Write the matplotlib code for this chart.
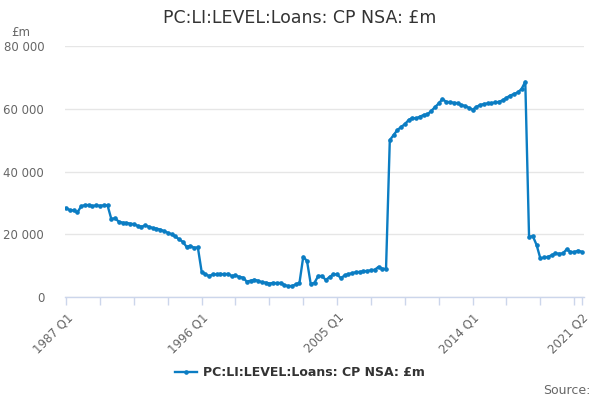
import matplotlib
matplotlib.use("Agg")
from matplotlib import pyplot as plt
from matplotlib.ticker import FuncFormatter

# quarterly series, 1987 Q1 .. 2021 Q2
quarters = [f"{y} Q{q}" for y in range(1987, 2022) for q in range(1, 5)][:138]
loans = [
    28300, 27700, 27600, 27000, 28900, 29300, 29300, 29000, 29200, 29100,
    29200, 29200, 24900, 25100, 24000, 23700, 23600, 23400, 23200, 22700,
    22400, 22800, 22400, 22000, 21800, 21500, 21000, 20500, 20000, 19300,
    18400, 17600, 16000, 16300, 15700, 15800, 8100, 7200, 6700, 7200,
    7200, 7400, 7200, 7400, 6700, 6900, 6400, 6200, 4900, 5200,
    5500, 5200, 4700, 4600, 4300, 4500, 4400, 4500, 3800, 3500,
    3500, 4000, 4500, 12800, 11500, 4100, 4600, 6700, 6700, 5400,
    6400, 7200, 7200, 6000, 6900, 7300, 7600, 7900, 8000, 8200,
    8300, 8500, 8700, 9600, 9000, 9000, 50000, 51600, 53200, 54200,
    55100, 56400, 57100, 56900, 57500, 58000, 58200, 59300, 60500, 61700,
    63100, 62200, 62100, 61900, 61800, 61200, 60900, 60300, 59700, 60600,
    61200, 61500, 61700, 61800, 62000, 62200, 62700, 63500, 64200, 64700,
    65200, 66300, 68600, 19200, 19400, 16600, 12300, 12600, 12800, 13300,
    13900, 13800, 13900, 15200, 14400, 14300, 14800, 14400,
]
title = "PC:LI:LEVEL:Loans: CP NSA: £m"
label_idx = [0, 36, 72, 108, 137]

line_col = "#0b7dc3"
axis_col = "#ccd6eb"
grid_col = "#e6e6e6"
text_col = "#666666"

fig = plt.figure(figsize=(6, 4), dpi=100)
ax = fig.add_axes([65 / 600, 1 - 297 / 400, 519 / 600, 251 / 400])

x = list(range(len(loans)))
ax.plot(x, loans, color=line_col, lw=1.7, marker="o", ms=2.3, label=title, zorder=3)

ax.set_xlim(-0.3, 137.6)
ax.set_ylim(0, 80000)
ax.set_yticks([0, 20000, 40000, 60000, 80000])
ax.yaxis.set_major_formatter(FuncFormatter(lambda v, p: f"{int(v):,}".replace(",", " ")))
ax.grid(axis="y", color=grid_col, lw=1)
ax.set_axisbelow(True)

for s in ["top", "right", "left"]:
    ax.spines[s].set_visible(False)
ax.spines["bottom"].set_color(axis_col)
ax.spines["bottom"].set_linewidth(1)

ax.tick_params(axis="y", length=0, pad=15, labelsize=8.5, labelcolor=text_col)

minor = list(range(0, 136, 9)) + [137]
ax.set_xticks(minor, minor=True)
ax.set_xticks(label_idx)
ax.set_xticklabels([quarters[i] for i in label_idx], rotation=45, ha="right",
                   rotation_mode="anchor", fontsize=8.5, color=text_col)
ax.tick_params(axis="x", which="both", length=6, width=1, color=axis_col, pad=4)

fig.text(0.5, 1 - 18 / 400, title, ha="center", va="center", fontsize=12.5, color="#333333")
fig.text(11 / 600, 1 - 32 / 400, "£m", ha="left", va="center", fontsize=8.5, color=text_col)
fig.text(590 / 600, 1 - 390 / 400, "Source:", ha="right", va="center", fontsize=9, color=text_col)

leg = fig.legend(loc="center", bbox_to_anchor=(0.5, 1 - 373 / 400), frameon=False,
                 handlelength=1.8, handletextpad=0.5, prop={"weight": "bold", "size": 9})
for t in leg.get_texts():
    t.set_color("#333333")

fig.savefig("out.png", dpi=100)
